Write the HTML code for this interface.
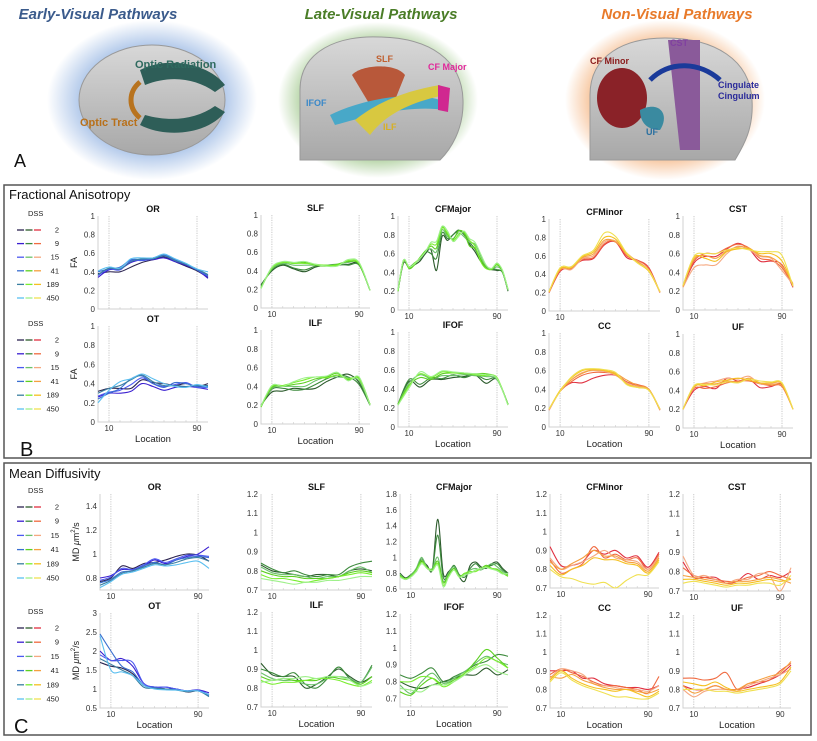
<!DOCTYPE html>
<html><head><meta charset="utf-8">
<style>
body{margin:0;background:#fff;}
svg{display:block;font-family:"Liberation Sans",Arial,sans-serif;}
.tk{font-size:8px;fill:#333;}
.tt{font-size:9px;font-weight:bold;fill:#111;text-anchor:middle;}
.lg{font-size:7.5px;fill:#222;}
</style></head>
<body>
<svg id="fig" width="817" height="741" viewBox="0 0 817 741">
<defs>
<radialGradient id="gB" cx="50%" cy="50%" r="50%"><stop offset="55%" stop-color="#6f9ad8" stop-opacity="0.75"/><stop offset="100%" stop-color="#6f9ad8" stop-opacity="0"/></radialGradient>
<radialGradient id="gG" cx="50%" cy="50%" r="50%"><stop offset="60%" stop-color="#6aa84a" stop-opacity="0.8"/><stop offset="100%" stop-color="#6aa84a" stop-opacity="0"/></radialGradient>
<radialGradient id="gO" cx="50%" cy="50%" r="50%"><stop offset="60%" stop-color="#f0944a" stop-opacity="0.8"/><stop offset="100%" stop-color="#f0944a" stop-opacity="0"/></radialGradient>
<linearGradient id="brain" x1="0" y1="0" x2="0" y2="1"><stop offset="0" stop-color="#d8d8d8"/><stop offset="1" stop-color="#a8a8a8"/></linearGradient>
</defs>
<g>
<text x="98" y="19" font-size="15" font-style="italic" font-weight="bold" fill="#3b5b8c" text-anchor="middle">Early-Visual Pathways</text>
<text x="381" y="19" font-size="15" font-style="italic" font-weight="bold" fill="#4a7d27" text-anchor="middle">Late-Visual Pathways</text>
<text x="677" y="19" font-size="15" font-style="italic" font-weight="bold" fill="#e87a2a" text-anchor="middle">Non-Visual Pathways</text>
<g>
<ellipse cx="152" cy="100" rx="105" ry="80" fill="url(#gB)"/>
<ellipse cx="152" cy="100" rx="73" ry="55" fill="url(#brain)" stroke="#999"/>
<path d="M140 70 C170 55 210 65 225 85 L215 92 C195 78 170 75 145 85Z" fill="#2e5e58"/>
<path d="M140 125 C170 140 210 132 225 112 L215 106 C195 120 170 122 145 115Z" fill="#2e5e58"/>
<path d="M140 82 C128 92 128 108 140 118" stroke="#b8731e" stroke-width="5" fill="none"/>
<text x="135" y="68" font-size="11" font-weight="bold" fill="#2f6a5f">Optic Radiation</text>
<text x="80" y="126" font-size="11" font-weight="bold" fill="#b8701a">Optic Tract</text>
</g>
<g>
<ellipse cx="378" cy="100" rx="100" ry="78" fill="url(#gG)"/>
<path d="M300 150 L300 90 C300 50 340 35 380 37 C430 38 462 60 463 100 C464 130 450 150 440 160 L300 160Z" fill="url(#brain)" stroke="#999"/>
<path d="M352 75 C360 65 395 62 405 75 L395 100 L370 105Z" fill="#b8583a"/>
<path d="M330 115 C360 100 410 90 440 100 L445 110 C410 105 370 115 335 125Z" fill="#48a8c8"/>
<path d="M355 120 C380 100 410 90 440 85 L445 95 C410 102 385 115 370 135Z" fill="#d8c840"/>
<path d="M438 85 L450 88 L448 112 L438 110Z" fill="#d02890"/>
<text x="376" y="62" font-size="9" font-weight="bold" fill="#c06030">SLF</text>
<text x="428" y="70" font-size="9" font-weight="bold" fill="#e0289a">CF Major</text>
<text x="306" y="106" font-size="9" font-weight="bold" fill="#3a88c8">IFOF</text>
<text x="383" y="130" font-size="9" font-weight="bold" fill="#d8b020">ILF</text>
</g>
<g>
<ellipse cx="665" cy="100" rx="100" ry="80" fill="url(#gO)"/>
<path d="M590 155 L590 95 C590 55 625 38 665 38 C715 38 750 60 752 100 C754 130 742 148 735 160 L590 160Z" fill="url(#brain)" stroke="#999"/>
<ellipse cx="622" cy="98" rx="25" ry="30" fill="#8a2228"/>
<path d="M668 40 L700 40 L700 150 L680 150Z" fill="#8a5a9a"/>
<path d="M650 80 C670 60 700 62 720 80" stroke="#1a3a9a" stroke-width="5" fill="none"/>
<path d="M640 110 C660 100 670 115 660 130 C650 130 640 125 640 110Z" fill="#3a8aa0"/>
<text x="590" y="64" font-size="9" font-weight="bold" fill="#8a1a1a">CF Minor</text>
<text x="670" y="46" font-size="9" font-weight="bold" fill="#8040a0">CST</text>
<text x="718" y="88" font-size="9" font-weight="bold" fill="#2a2a9a">Cingulate</text>
<text x="718" y="99" font-size="9" font-weight="bold" fill="#2a2a9a">Cingulum</text>
<text x="646" y="135" font-size="9" font-weight="bold" fill="#2a70a0">UF</text>
</g>
<text x="14" y="167" font-size="18" fill="#111">A</text>
</g>
<rect x="4" y="185" width="807" height="273" fill="none" stroke="#555" stroke-width="1.5"/>
<rect x="4" y="463" width="807" height="272" fill="none" stroke="#555" stroke-width="1.5"/>
<text x="9" y="199" font-size="13" fill="#111">Fractional Anisotropy</text>
<text x="9" y="478" font-size="13" fill="#111">Mean Diffusivity</text>
<text x="20" y="456" font-size="20" fill="#111">B</text>
<text x="14" y="733" font-size="20" fill="#111">C</text>
<g id="plots"></g>
</svg>
<script>
// ---- data ----
const dssLabels = ["2","9","15","41","189","450"];
const blueColors = ["#2c2450","#3a1fd0","#4d5af0","#3a6fd0","#3a7fa0","#5bbff0"];
const greenColors = ["#2b5a2b","#3c8a3c","#6cc06c","#5cd020","#7aee30","#9ef08a"];
const orangeColors = ["#e03040","#f06a40","#f5a880","#f5a040","#f5c020","#f0e050"];
const faTicks = [0,0.2,0.4,0.6,0.8,1];
const mdTicks = [0.7,0.8,0.9,1,1.1,1.2];
const xTickLabels = [10,90];

const faOR = [[0.38,0.40,0.40,0.45,0.50,0.53,0.56,0.51,0.46,0.41,0.34],[0.34,0.42,0.43,0.50,0.53,0.53,0.55,0.51,0.47,0.42,0.33],[0.36,0.43,0.42,0.52,0.52,0.54,0.57,0.52,0.48,0.42,0.35],[0.40,0.43,0.45,0.53,0.53,0.55,0.58,0.53,0.48,0.42,0.36],[0.37,0.44,0.43,0.51,0.54,0.54,0.57,0.52,0.48,0.43,0.37],[0.41,0.45,0.44,0.54,0.55,0.55,0.59,0.54,0.49,0.43,0.40]];
const faOT = [[0.32,0.35,0.35,0.35,0.44,0.41,0.40,0.38,0.40,0.37,0.40],[0.26,0.30,0.30,0.32,0.40,0.37,0.33,0.36,0.37,0.36,0.34],[0.27,0.31,0.33,0.39,0.46,0.40,0.37,0.39,0.41,0.36,0.36],[0.24,0.30,0.35,0.45,0.48,0.40,0.36,0.41,0.40,0.37,0.37],[0.30,0.35,0.38,0.44,0.49,0.42,0.38,0.38,0.37,0.38,0.38],[0.20,0.33,0.42,0.45,0.50,0.45,0.40,0.37,0.36,0.39,0.36]];
const faSLF = [[0.25,0.40,0.46,0.42,0.39,0.44,0.46,0.46,0.47,0.47,0.19],[0.24,0.41,0.47,0.43,0.41,0.45,0.46,0.47,0.46,0.46,0.19],[0.22,0.42,0.48,0.46,0.46,0.46,0.46,0.47,0.49,0.48,0.19],[0.22,0.43,0.49,0.48,0.49,0.46,0.45,0.47,0.50,0.47,0.19],[0.21,0.43,0.49,0.48,0.48,0.47,0.46,0.46,0.51,0.48,0.19],[0.21,0.44,0.50,0.49,0.50,0.47,0.45,0.45,0.52,0.49,0.19]];
const faCFMajor = [[0.20,0.50,0.45,0.48,0.52,0.60,0.64,0.42,0.78,0.74,0.80,0.84,0.82,0.70,0.62,0.52,0.45,0.43,0.42,0.40,0.20],[0.20,0.52,0.46,0.50,0.54,0.62,0.60,0.55,0.82,0.76,0.80,0.85,0.80,0.72,0.65,0.54,0.46,0.44,0.43,0.40,0.21],[0.21,0.53,0.45,0.49,0.55,0.63,0.65,0.62,0.85,0.78,0.76,0.82,0.78,0.72,0.70,0.58,0.47,0.43,0.46,0.41,0.21],[0.21,0.53,0.44,0.48,0.56,0.63,0.68,0.66,0.88,0.80,0.75,0.84,0.82,0.68,0.66,0.55,0.45,0.43,0.48,0.41,0.22],[0.20,0.52,0.45,0.50,0.55,0.62,0.70,0.70,0.87,0.82,0.74,0.80,0.83,0.74,0.68,0.52,0.44,0.44,0.49,0.42,0.22],[0.21,0.53,0.46,0.49,0.55,0.62,0.72,0.73,0.89,0.84,0.73,0.78,0.84,0.76,0.72,0.60,0.48,0.44,0.50,0.42,0.22]];
const faILF = [[0.20,0.34,0.35,0.38,0.37,0.38,0.45,0.50,0.53,0.44,0.20],[0.19,0.37,0.38,0.36,0.37,0.42,0.48,0.52,0.50,0.42,0.20],[0.19,0.38,0.40,0.40,0.40,0.46,0.50,0.50,0.49,0.46,0.21],[0.18,0.39,0.40,0.42,0.44,0.48,0.50,0.54,0.47,0.49,0.21],[0.19,0.40,0.41,0.44,0.47,0.50,0.49,0.52,0.48,0.48,0.21],[0.19,0.41,0.40,0.45,0.49,0.50,0.51,0.55,0.46,0.50,0.20]];
const faIFOF = [[0.24,0.48,0.42,0.50,0.50,0.52,0.53,0.55,0.46,0.50,0.24],[0.24,0.50,0.45,0.52,0.51,0.55,0.52,0.55,0.50,0.50,0.24],[0.24,0.46,0.55,0.51,0.54,0.54,0.55,0.54,0.53,0.50,0.24],[0.24,0.44,0.52,0.50,0.56,0.57,0.56,0.56,0.56,0.51,0.24],[0.23,0.43,0.56,0.52,0.58,0.57,0.57,0.55,0.54,0.52,0.23],[0.23,0.41,0.58,0.53,0.59,0.58,0.57,0.56,0.55,0.51,0.23]];
const faCFMinor = [[0.20,0.43,0.48,0.55,0.57,0.72,0.75,0.58,0.55,0.47,0.20],[0.20,0.44,0.46,0.56,0.58,0.73,0.76,0.60,0.55,0.46,0.20],[0.21,0.45,0.45,0.57,0.60,0.75,0.76,0.62,0.54,0.44,0.20],[0.21,0.45,0.47,0.58,0.62,0.77,0.75,0.63,0.53,0.44,0.21],[0.21,0.46,0.47,0.59,0.64,0.80,0.78,0.62,0.52,0.43,0.21],[0.21,0.47,0.48,0.60,0.66,0.85,0.81,0.63,0.52,0.44,0.21]];
const faCST = [[0.25,0.50,0.57,0.57,0.65,0.71,0.65,0.52,0.52,0.48,0.24],[0.25,0.52,0.60,0.60,0.66,0.70,0.66,0.55,0.53,0.45,0.26],[0.24,0.45,0.48,0.48,0.60,0.68,0.64,0.57,0.55,0.42,0.27],[0.25,0.54,0.58,0.55,0.63,0.67,0.66,0.58,0.56,0.47,0.28],[0.26,0.56,0.55,0.52,0.62,0.65,0.65,0.60,0.60,0.52,0.26],[0.26,0.57,0.60,0.60,0.64,0.66,0.64,0.62,0.62,0.58,0.25]];
const faCC = [[0.18,0.38,0.47,0.47,0.52,0.55,0.55,0.48,0.44,0.40,0.18],[0.18,0.38,0.48,0.55,0.58,0.58,0.56,0.48,0.45,0.40,0.18],[0.18,0.38,0.50,0.58,0.60,0.59,0.55,0.47,0.43,0.40,0.18],[0.19,0.38,0.50,0.57,0.61,0.60,0.57,0.50,0.44,0.40,0.19],[0.19,0.39,0.52,0.60,0.61,0.60,0.56,0.46,0.42,0.39,0.19],[0.19,0.38,0.53,0.61,0.62,0.61,0.58,0.45,0.42,0.39,0.19]];
const faUF = [[0.20,0.40,0.44,0.42,0.53,0.50,0.52,0.43,0.44,0.46,0.20],[0.20,0.42,0.42,0.44,0.48,0.50,0.50,0.47,0.45,0.44,0.20],[0.20,0.43,0.48,0.50,0.53,0.52,0.55,0.47,0.47,0.47,0.20],[0.20,0.44,0.47,0.47,0.50,0.49,0.53,0.48,0.46,0.45,0.20],[0.20,0.44,0.45,0.49,0.51,0.53,0.51,0.48,0.48,0.47,0.20],[0.20,0.45,0.46,0.46,0.49,0.48,0.52,0.50,0.49,0.48,0.20]];

const mdOR = [[0.77,0.80,0.90,0.88,0.92,0.93,0.95,0.98,1.00,0.99,0.94],[0.80,0.82,0.87,0.87,0.90,0.95,0.92,0.95,0.98,1.00,1.06],[0.78,0.81,0.88,0.87,0.91,0.96,0.93,0.96,0.99,0.99,0.98],[0.76,0.79,0.85,0.86,0.90,0.93,0.91,0.95,0.97,0.98,0.97],[0.74,0.78,0.84,0.86,0.89,0.92,0.91,0.93,0.96,0.97,0.94],[0.72,0.77,0.83,0.85,0.88,0.91,0.90,0.91,0.93,0.94,0.88]];
const mdOT = [[1.70,1.60,1.55,1.40,1.10,1.05,1.00,1.00,0.92,0.95,0.85],[2.00,1.75,1.80,1.60,1.15,1.05,1.05,1.00,0.95,0.98,0.90],[1.90,1.75,1.75,1.70,1.15,1.05,1.05,1.00,0.95,0.97,0.85],[2.45,2.00,1.60,1.45,1.10,1.03,1.00,0.98,0.95,0.95,0.82],[1.80,1.65,1.50,1.35,1.05,1.02,1.00,0.97,0.93,0.95,0.80],[2.40,1.50,1.45,1.35,1.10,1.00,0.98,0.97,0.95,0.95,0.85]];
const mdSLF = [[0.83,0.80,0.79,0.78,0.77,0.78,0.78,0.77,0.80,0.81,0.80],[0.84,0.81,0.79,0.80,0.78,0.77,0.78,0.78,0.82,0.84,0.85],[0.82,0.79,0.78,0.78,0.77,0.76,0.77,0.77,0.80,0.82,0.79],[0.80,0.78,0.77,0.77,0.76,0.76,0.76,0.77,0.79,0.80,0.79],[0.78,0.76,0.76,0.75,0.74,0.75,0.76,0.77,0.78,0.79,0.78],[0.76,0.75,0.74,0.73,0.74,0.74,0.75,0.75,0.76,0.77,0.77]];
const mdCFMajor = [[0.80,0.74,0.78,0.82,0.95,0.90,0.85,1.48,0.80,0.82,0.88,0.75,0.70,0.90,0.94,0.88,0.86,0.92,0.94,0.86,0.80],[0.78,0.73,0.78,0.85,0.98,0.88,0.85,1.28,0.75,0.80,0.90,0.78,0.75,0.86,0.92,0.86,0.88,0.90,0.92,0.84,0.79],[0.79,0.72,0.77,0.86,1.00,0.87,0.86,1.00,0.70,0.80,0.88,0.76,0.78,0.84,0.86,0.84,0.88,0.92,0.88,0.82,0.78],[0.77,0.72,0.76,0.84,0.96,0.86,0.84,0.95,0.68,0.78,0.86,0.76,0.80,0.80,0.84,0.86,0.90,0.86,0.85,0.80,0.76],[0.76,0.73,0.76,0.83,0.94,0.87,0.84,0.92,0.65,0.76,0.84,0.75,0.80,0.82,0.82,0.86,0.88,0.86,0.84,0.80,0.77],[0.75,0.72,0.75,0.82,0.92,0.86,0.83,0.90,0.63,0.75,0.84,0.75,0.78,0.80,0.84,0.86,0.87,0.85,0.83,0.79,0.80]];
const mdILF = [[0.93,0.87,0.86,0.86,0.80,0.82,0.86,0.90,0.86,0.83,0.86],[0.90,0.88,0.86,0.88,0.82,0.80,0.85,0.91,0.85,0.83,0.92],[0.88,0.85,0.84,0.84,0.82,0.82,0.85,0.86,0.85,0.83,0.91],[0.86,0.84,0.85,0.84,0.84,0.84,0.86,0.85,0.84,0.82,0.86],[0.84,0.82,0.83,0.83,0.84,0.85,0.85,0.84,0.82,0.81,0.84],[0.83,0.84,0.85,0.85,0.86,0.85,0.86,0.86,0.84,0.81,0.83]];
const mdIFOF = [[0.80,0.77,0.76,0.78,0.80,0.82,0.84,0.84,0.88,0.84,0.87],[0.84,0.82,0.85,0.88,0.80,0.83,0.86,0.90,0.92,0.96,0.95],[0.78,0.73,0.80,0.85,0.79,0.82,0.86,0.91,0.95,0.92,0.90],[0.74,0.72,0.78,0.82,0.78,0.81,0.85,0.92,0.99,0.94,0.88],[0.80,0.80,0.83,0.82,0.77,0.80,0.85,0.89,0.94,0.92,0.88],[0.76,0.75,0.74,0.78,0.78,0.80,0.84,0.88,0.90,0.86,0.84]];
const mdCFMinor = [[0.92,0.82,0.82,0.84,0.90,0.88,0.90,0.86,0.87,0.81,0.89],[0.85,0.78,0.80,0.83,0.92,0.86,0.88,0.85,0.86,0.80,0.88],[0.86,0.80,0.82,0.84,0.87,0.90,0.86,0.85,0.84,0.80,0.87],[0.84,0.80,0.83,0.86,0.90,0.87,0.87,0.84,0.83,0.79,0.86],[0.82,0.77,0.80,0.82,0.86,0.85,0.85,0.83,0.82,0.78,0.85],[0.80,0.76,0.75,0.73,0.72,0.73,0.70,0.74,0.77,0.77,0.84]];
const mdCST = [[0.85,0.77,0.77,0.77,0.74,0.75,0.79,0.76,0.78,0.77,0.80],[0.82,0.78,0.77,0.76,0.75,0.75,0.77,0.78,0.80,0.78,0.76],[0.88,0.78,0.78,0.76,0.74,0.76,0.76,0.79,0.78,0.70,0.82],[0.78,0.77,0.76,0.75,0.74,0.75,0.75,0.76,0.77,0.76,0.74],[0.76,0.76,0.75,0.74,0.73,0.74,0.74,0.75,0.76,0.75,0.76],[0.74,0.75,0.74,0.73,0.72,0.73,0.73,0.74,0.74,0.73,0.78]];
const mdCC = [[0.90,0.90,0.90,0.86,0.86,0.83,0.82,0.81,0.81,0.80,0.82],[0.88,0.91,0.89,0.87,0.84,0.82,0.82,0.81,0.80,0.78,0.87],[0.86,0.91,0.90,0.88,0.83,0.82,0.81,0.80,0.80,0.79,0.82],[0.87,0.86,0.88,0.85,0.83,0.81,0.80,0.80,0.79,0.78,0.80],[0.85,0.90,0.86,0.83,0.81,0.80,0.79,0.80,0.78,0.76,0.79],[0.84,0.89,0.85,0.82,0.80,0.78,0.76,0.76,0.75,0.75,0.78]];
const mdUF = [[0.82,0.80,0.80,0.82,0.80,0.80,0.81,0.83,0.85,0.88,0.93],[0.86,0.86,0.85,0.86,0.89,0.80,0.83,0.84,0.85,0.90,0.94],[0.80,0.76,0.79,0.80,0.80,0.79,0.82,0.84,0.86,0.88,0.91],[0.82,0.78,0.80,0.82,0.80,0.80,0.83,0.85,0.87,0.89,0.95],[0.84,0.83,0.82,0.84,0.81,0.79,0.80,0.81,0.82,0.84,0.92],[0.80,0.80,0.80,0.79,0.79,0.78,0.79,0.80,0.81,0.83,0.90]];

// ---- layout ----
const NS = "http://www.w3.org/2000/svg";
const root = document.getElementById("plots");
function mk(tag, attrs, parent){ const e=document.createElementNS(NS,tag); for(const k in attrs) e.setAttribute(k,attrs[k]); (parent||root).appendChild(e); return e; }
function smooth(pts){
  let d="M"+pts[0][0].toFixed(1)+" "+pts[0][1].toFixed(1);
  for(let i=0;i<pts.length-1;i++){
    const p0=pts[i-1]||pts[i], p1=pts[i], p2=pts[i+1], p3=pts[i+2]||p2;
    const c1=[p1[0]+(p2[0]-p0[0])/6, p1[1]+(p2[1]-p0[1])/6];
    const c2=[p2[0]-(p3[0]-p1[0])/6, p2[1]-(p3[1]-p1[1])/6];
    d+=" C"+c1[0].toFixed(1)+" "+c1[1].toFixed(1)+" "+c2[0].toFixed(1)+" "+c2[1].toFixed(1)+" "+p2[0].toFixed(1)+" "+p2[1].toFixed(1);
  }
  return d;
}
function fmt(v){ return (Math.round(v*10)/10).toString(); }
function plot(cfg){
  const g=mk("g",{});
  
  
  const xs=l=>cfg.x0+(cfg.x1-cfg.x0)*l/100;
  const ys=v=>cfg.yb-(v-cfg.ymin)/(cfg.ymax-cfg.ymin)*(cfg.yb-cfg.yt);
  [10,90].forEach(l=>{ const ln=mk("line",{x1:xs(l),x2:xs(l),y1:cfg.yt,y2:cfg.yb,stroke:"#bbb","stroke-width":0.8,"stroke-dasharray":"1.2 1.2"},g);
    
     });
  const ax=mk("path",{d:`M${cfg.x0} ${cfg.yt} L${cfg.x0} ${cfg.yb} L${cfg.x1} ${cfg.yb}`,fill:"none",stroke:"#d0d0d0","stroke-width":1},g);
  
  
  cfg.ticks.forEach(t=>{
    const tx=mk("text",{x:cfg.x0-3,y:ys(t)+3,"text-anchor":"end",class:"tk"},g);
    tx.textContent=fmt(t);
    
    
  });
  for(let l=10;l<=90;l+=10){ mk("line",{x1:xs(l),x2:xs(l),y1:cfg.yb,y2:cfg.yb-2,stroke:"#ccc","stroke-width":0.6},g); }
  cfg.xlabels.forEach(l=>{
    const tx=mk("text",{x:xs(l),y:cfg.yb+9,"text-anchor":"middle",class:"tk"},g);
    tx.textContent=l;
    
    
  });
  const tt=mk("text",{x:(cfg.x0+cfg.x1)/2,y:cfg.yt-4,class:"tt"},g);
  tt.textContent=cfg.title;
  
  
  if(cfg.loc){ const lt=mk("text",{x:(cfg.x0+cfg.x1)/2,y:cfg.yb+20,"text-anchor":"middle","font-size":"9.5px",fill:"#222"},g);
    lt.textContent="Location";
    
     }
  if(cfg.ylab){ const yl=mk("text",{x:0,y:0,transform:`translate(${cfg.x0-21},${(cfg.yt+cfg.yb)/2}) rotate(-90)`,"text-anchor":"middle","font-size":"9px",fill:"#222"},g);
    yl.innerHTML=cfg.ylab;
    
     }
  cfg.data.forEach((s,i)=>{
    const n=s.length;
    const pts=s.map((v,j)=>[xs(100*j/(n-1)),ys(v)]);
    const p=mk("path",{d:smooth(pts),fill:"none",stroke:cfg.colors[i],"stroke-width":1.1},g);
    
    
  });
}
function legend(x,y,dy){
  const g=mk("g",{});
  
  
  const h=mk("text",{x:x+11,y:y,class:"lg"},g); h.textContent="DSS";
  
  
  dssLabels.forEach((lab,i)=>{
    const yy=y+14+i*dy;
    [[blueColors,0],[greenColors,8.5],[orangeColors,17]].forEach(([c,o])=>{
      mk("line",{x1:x+o,x2:x+o+7,y1:yy,y2:yy,stroke:c[i],"stroke-width":1.3},g);
    });
    const t=mk("text",{x:x+42,y:yy+2.5,class:"lg","text-anchor":"end"},g); t.textContent=lab;
    
    
  });
}
const faYl='FA', mdYl='MD <tspan font-style="italic">μ</tspan>m<tspan dy="-4" font-size="6">2</tspan><tspan dy="4">/s</tspan>';
const plots=[
 {name:"fa-or-plot",title:"OR",x0:98,x1:208,yt:216,yb:309,ymin:0,ymax:1,ticks:faTicks,xlabels:[],data:faOR,colors:blueColors,ylab:faYl},
 {name:"fa-ot-plot",title:"OT",x0:98,x1:208,yt:326,yb:422,ymin:0,ymax:1,ticks:faTicks,xlabels:xTickLabels,data:faOT,colors:blueColors,ylab:faYl,loc:1},
 {name:"fa-slf-plot",title:"SLF",x0:261,x1:370,yt:215,yb:308,ymin:0,ymax:1,ticks:faTicks,xlabels:xTickLabels,data:faSLF,colors:greenColors},
 {name:"fa-ilf-plot",title:"ILF",x0:261,x1:370,yt:330,yb:424,ymin:0,ymax:1,ticks:faTicks,xlabels:xTickLabels,data:faILF,colors:greenColors,loc:1},
 {name:"fa-cfmajor-plot",title:"CFMajor",x0:398,x1:508,yt:216,yb:310,ymin:0,ymax:1,ticks:faTicks,xlabels:xTickLabels,data:faCFMajor,colors:greenColors},
 {name:"fa-ifof-plot",title:"IFOF",x0:398,x1:508,yt:332,yb:427,ymin:0,ymax:1,ticks:faTicks,xlabels:xTickLabels,data:faIFOF,colors:greenColors,loc:1},
 {name:"fa-cfminor-plot",title:"CFMinor",x0:549,x1:660,yt:219,yb:311,ymin:0,ymax:1,ticks:faTicks,xlabels:[10],data:faCFMinor,colors:orangeColors},
 {name:"fa-cc-plot",title:"CC",x0:549,x1:660,yt:333,yb:427,ymin:0,ymax:1,ticks:faTicks,xlabels:xTickLabels,data:faCC,colors:orangeColors,loc:1},
 {name:"fa-cst-plot",title:"CST",x0:683,x1:793,yt:216,yb:310,ymin:0,ymax:1,ticks:faTicks,xlabels:xTickLabels,data:faCST,colors:orangeColors},
 {name:"fa-uf-plot",title:"UF",x0:683,x1:793,yt:334,yb:428,ymin:0,ymax:1,ticks:faTicks,xlabels:xTickLabels,data:faUF,colors:orangeColors,loc:1},
 {name:"md-or-plot",title:"OR",x0:100,x1:209,yt:494,yb:590,ymin:0.7,ymax:1.5,ticks:[0.8,1,1.2,1.4],xlabels:xTickLabels,data:mdOR,colors:blueColors,ylab:mdYl},
 {name:"md-ot-plot",title:"OT",x0:100,x1:209,yt:613,yb:708,ymin:0.5,ymax:3,ticks:[0.5,1,1.5,2,2.5,3],xlabels:xTickLabels,data:mdOT,colors:blueColors,ylab:mdYl,loc:1},
 {name:"md-slf-plot",title:"SLF",x0:261,x1:372,yt:494,yb:590,ymin:0.7,ymax:1.2,ticks:mdTicks,xlabels:xTickLabels,data:mdSLF,colors:greenColors},
 {name:"md-ilf-plot",title:"ILF",x0:261,x1:372,yt:612,yb:707,ymin:0.7,ymax:1.2,ticks:mdTicks,xlabels:xTickLabels,data:mdILF,colors:greenColors,loc:1},
 {name:"md-cfmajor-plot",title:"CFMajor",x0:400,x1:508,yt:494,yb:589,ymin:0.6,ymax:1.8,ticks:[0.6,0.8,1,1.2,1.4,1.6,1.8],xlabels:xTickLabels,data:mdCFMajor,colors:greenColors},
 {name:"md-ifof-plot",title:"IFOF",x0:400,x1:508,yt:614,yb:707,ymin:0.65,ymax:1.2,ticks:[0.7,0.8,0.9,1,1.1,1.2],xlabels:xTickLabels,data:mdIFOF,colors:greenColors,loc:1},
 {name:"md-cfminor-plot",title:"CFMinor",x0:550,x1:659,yt:494,yb:588,ymin:0.7,ymax:1.2,ticks:mdTicks,xlabels:xTickLabels,data:mdCFMinor,colors:orangeColors},
 {name:"md-cc-plot",title:"CC",x0:550,x1:659,yt:615,yb:708,ymin:0.7,ymax:1.2,ticks:mdTicks,xlabels:xTickLabels,data:mdCC,colors:orangeColors,loc:1},
 {name:"md-cst-plot",title:"CST",x0:683,x1:791,yt:494,yb:591,ymin:0.7,ymax:1.2,ticks:mdTicks,xlabels:xTickLabels,data:mdCST,colors:orangeColors},
 {name:"md-uf-plot",title:"UF",x0:683,x1:791,yt:615,yb:708,ymin:0.7,ymax:1.2,ticks:mdTicks,xlabels:xTickLabels,data:mdUF,colors:orangeColors,loc:1}
];
plots.forEach(plot);
legend(17,216,13.6);
legend(17,326,13.8);
legend(17,493,14.2);
legend(17,614,14.2);
</script>
</body></html>
